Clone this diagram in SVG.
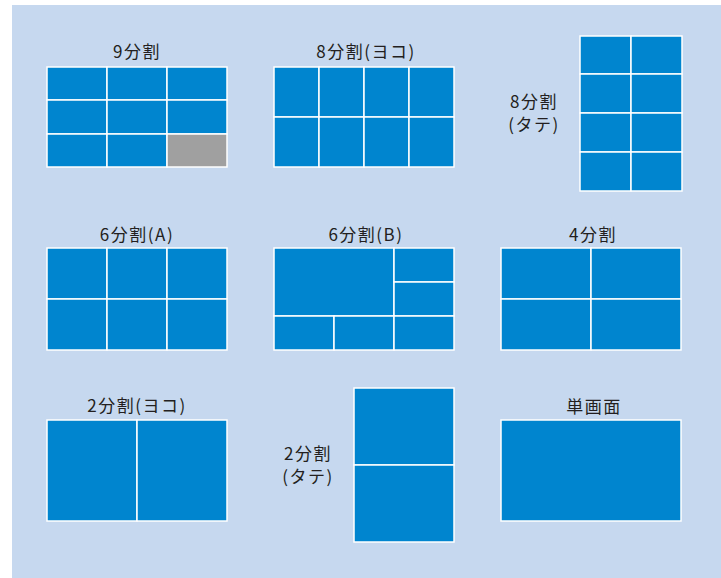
<svg xmlns="http://www.w3.org/2000/svg" width="721" height="578" viewBox="0 0 721 578">
<style>
.c{fill:#0085cf;stroke:#ffffff;stroke-width:1.5}
.g{fill:#a0a0a0;stroke:#ffffff;stroke-width:1.5}
.t{font-family:"Noto Sans CJK JP","Noto Sans",sans-serif;font-size:17px;fill:#231f20;text-anchor:middle;letter-spacing:1.5px}
</style>
<rect x="12" y="5" width="709" height="573" fill="#c6d8ef"/>
<g id="split9">
<text class="t" x="137" y="58">9分割</text>
<rect class="c" x="47" y="67" width="60" height="33"/>
<rect class="c" x="107" y="67" width="60" height="33"/>
<rect class="c" x="167" y="67" width="60" height="33"/>
<rect class="c" x="47" y="100" width="60" height="34"/>
<rect class="c" x="107" y="100" width="60" height="34"/>
<rect class="c" x="167" y="100" width="60" height="34"/>
<rect class="c" x="47" y="134" width="60" height="33"/>
<rect class="c" x="107" y="134" width="60" height="33"/>
<rect class="g" x="167" y="134" width="60" height="33"/>
</g>
<g id="split8h">
<text class="t" x="366" y="58">8分割(ヨコ)</text>
<rect class="c" x="274" y="67" width="45" height="50"/>
<rect class="c" x="319" y="67" width="45" height="50"/>
<rect class="c" x="364" y="67" width="45" height="50"/>
<rect class="c" x="409" y="67" width="45" height="50"/>
<rect class="c" x="274" y="117" width="45" height="50"/>
<rect class="c" x="319" y="117" width="45" height="50"/>
<rect class="c" x="364" y="117" width="45" height="50"/>
<rect class="c" x="409" y="117" width="45" height="50"/>
</g>
<g id="split8v">
<text class="t" x="534" y="108">8分割</text>
<text class="t" x="534" y="131">(タテ)</text>
<rect class="c" x="580" y="36" width="51" height="38"/>
<rect class="c" x="631" y="36" width="51" height="38"/>
<rect class="c" x="580" y="74" width="51" height="39"/>
<rect class="c" x="631" y="74" width="51" height="39"/>
<rect class="c" x="580" y="113" width="51" height="39"/>
<rect class="c" x="631" y="113" width="51" height="39"/>
<rect class="c" x="580" y="152" width="51" height="39"/>
<rect class="c" x="631" y="152" width="51" height="39"/>
</g>
<g id="split6a">
<text class="t" x="137" y="241">6分割(A)</text>
<rect class="c" x="47" y="248" width="60" height="51"/>
<rect class="c" x="107" y="248" width="60" height="51"/>
<rect class="c" x="167" y="248" width="60" height="51"/>
<rect class="c" x="47" y="299" width="60" height="51"/>
<rect class="c" x="107" y="299" width="60" height="51"/>
<rect class="c" x="167" y="299" width="60" height="51"/>
</g>
<g id="split6b">
<text class="t" x="366" y="241">6分割(B)</text>
<rect class="c" x="274" y="248" width="120" height="68"/>
<rect class="c" x="394" y="248" width="60" height="34"/>
<rect class="c" x="394" y="282" width="60" height="34"/>
<rect class="c" x="274" y="316" width="60" height="34"/>
<rect class="c" x="334" y="316" width="60" height="34"/>
<rect class="c" x="394" y="316" width="60" height="34"/>
</g>
<g id="split4">
<text class="t" x="593" y="241">4分割</text>
<rect class="c" x="501" y="248" width="90" height="51"/>
<rect class="c" x="591" y="248" width="90" height="51"/>
<rect class="c" x="501" y="299" width="90" height="51"/>
<rect class="c" x="591" y="299" width="90" height="51"/>
</g>
<g id="split2h">
<text class="t" x="137" y="412">2分割(ヨコ)</text>
<rect class="c" x="47" y="420" width="90" height="101"/>
<rect class="c" x="137" y="420" width="90" height="101"/>
</g>
<g id="split2v">
<text class="t" x="308" y="460">2分割</text>
<text class="t" x="308" y="483">(タテ)</text>
<rect class="c" x="354" y="388" width="100" height="77"/>
<rect class="c" x="354" y="465" width="100" height="77"/>
</g>
<g id="single">
<text class="t" x="594" y="413">単画面</text>
<rect class="c" x="501" y="420" width="180" height="101"/>
</g>
</svg>
